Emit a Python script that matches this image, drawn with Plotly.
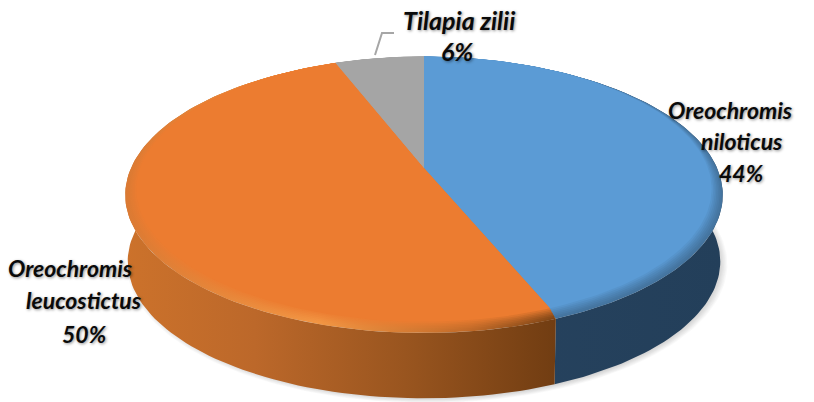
import numpy as np
import plotly.graph_objects as go

labels = ["Oreochromis niloticus", "Oreochromis leucostictus", "Tilapia zilii"]
values = [44, 50, 6]
face_colors = ["#5B9BD5", "#EC7C30", "#A5A5A5"]
rim_scales = [
    [[0, "#44749F"], [1, "#44749F"]],
    [[0, "#DB7A33"], [0.45, "#F29644"], [0.8, "#C06A28"], [1, "#7E4516"]],
    [[0, "#A5A5A5"], [1, "#A5A5A5"]],
]
side_scales = [
    [[0, "#27435F"], [1, "#233F5A"]],
    [[0, "#CC722B"], [0.3, "#BC682A"], [0.65, "#99551F"], [1, "#713D12"]],
    [[0, "#666666"], [1, "#666666"]],
]

W, H = 814, 402
CX, CY, RX, RY, K = 424, 168, 293, 132.7, 0.1956


def project(deg, scale=1.0, dy=0.0, dx=0.0):
    t = np.radians(deg)
    u, v = scale * np.sin(t), -scale * np.cos(t)
    w = 1 - K * v
    return CX + dx + RX * u / w, CY + dy + RY * v / w


def hex_mix(a, b, f):
    pa = [int(a[i:i + 2], 16) for i in (1, 3, 5)]
    pb = [int(b[i:i + 2], 16) for i in (1, 3, 5)]
    return "#" + "".join(f"{round(x + (y - x) * f):02X}" for x, y in zip(pa, pb))


def area(xs, ys, **kw):
    return go.Scatter(x=xs, y=ys, mode="lines", fill="toself", line=dict(width=0),
                      hoverinfo="skip", showlegend=False, **kw)


fig = go.Figure()

# soft drop shadow
for i in range(8):
    xs, ys = project(np.linspace(0, 360, 240), scale=1.005 - 0.0035 * i, dy=69, dx=3)
    fig.add_trace(area(xs, ys, fillcolor="rgba(90,90,90,0.035)"))

# slice angle ranges from the data
total = sum(values)
edges = np.cumsum([0] + values) / total * 360

# pie side wall
for i in range(len(values)):
    th = np.linspace(edges[i], edges[i + 1], 120)
    x1, y1 = project(th)
    x2, y2 = project(th[::-1], scale=0.992, dy=67)
    fig.add_trace(area(np.r_[x1, x2], np.r_[y1, y2],
                       fillgradient=dict(type="horizontal", colorscale=side_scales[i])))

# top face with bevelled rim, stacked from outside to inside; the inset is
# lifted so that the rim fades out along the back edge
steps = 7
for s in range(steps + 1):
    frac = s / steps
    scale = 1 - 0.036 * frac
    lift = -4.0 * frac
    f = frac ** 1.3
    for i in range(len(values)):
        th = np.linspace(edges[i], edges[i + 1], 120)
        xs, ys = project(th, scale=scale, dy=lift)
        xs = np.r_[CX, xs, CX]
        ys = np.r_[CY, ys, CY]
        if s == steps:
            fig.add_trace(area(xs, ys, fillcolor=face_colors[i]))
        else:
            scale_mixed = [[p, hex_mix(c, face_colors[i], f)] for p, c in rim_scales[i]]
            fig.add_trace(area(xs, ys, fillgradient=dict(type="horizontal", colorscale=scale_mixed)))

# leader line for the small slice
fig.add_trace(go.Scatter(x=[375, 382, 394], y=[55, 33, 33], mode="lines",
                         line=dict(color="#A6A6A6", width=2), hoverinfo="skip", showlegend=False))

label_lines = [
    labels[0].split() + [f"{values[0]}%"],
    labels[1].split() + [f"{values[1]}%"],
    [labels[2], f"{values[2]}%"],
]
label_pos = [
    [(730, 110), (742, 141), (741, 173)],
    [(70, 268), (84, 300), (84, 334)],
    [(459, 20), (457, 51)],
]
label_size = [23, 23, 25]
for lines, pos, size in zip(label_lines, label_pos, label_size):
    for text, (x, y) in zip(lines, pos):
        fig.add_annotation(x=x, y=y, text=f"<b><i>{text}</i></b>", showarrow=False,
                           xanchor="center", yanchor="middle",
                           font=dict(family="Lato", size=size, color="#0A0A0A",
                                     shadow="1px 1px 3px rgba(0,0,0,0.45)"))

fig.update_layout(
    width=W, height=H, margin=dict(l=0, r=0, t=0, b=0),
    paper_bgcolor="white", plot_bgcolor="white", showlegend=False,
    xaxis=dict(range=[0, W], visible=False, fixedrange=True),
    yaxis=dict(range=[H, 0], visible=False, fixedrange=True),
)
fig.write_html("out.html", config=dict(displayModeBar=False),
               post_script="document.body.style.margin='0';document.body.style.overflow='hidden';")
